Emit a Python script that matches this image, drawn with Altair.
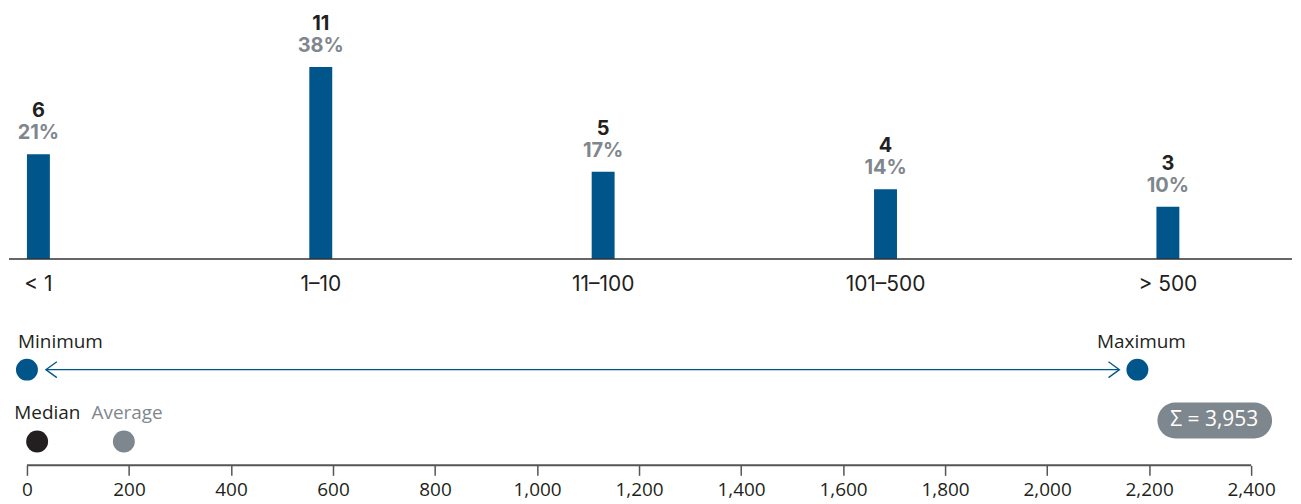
import altair as alt
import pandas as pd

# ---- data ----
categories = ["< 1", "1–10", "11–100", "101–500", "> 500"]
counts = [6, 11, 5, 4, 3]
shares = [21, 38, 17, 14, 10]

range_names = ["Minimum", "Maximum"]
range_values = [0, 2177]
center_names = ["Median", "Average"]
center_values = [20, 190]
total = 3953
axis_ticks = [0, 200, 400, 600, 800, 1000, 1200, 1400, 1600, 1800, 2000, 2200, 2400]

# ---- style ----
BLUE = "#00558b"
GRAY = "#7f878e"
INK = "#231f20"
FONT = "Inter"
FONT2 = "Open Sans"
W, H = 1287, 458

top_df = pd.DataFrame({"cat": categories, "count": counts,
                       "pct": [f"{s}%" for s in shares]})
one = pd.DataFrame({"k": [0]})

xt = alt.X("cat:N", sort=categories,
           scale=alt.Scale(type="point", range=[29.5, 1162.5], padding=0), axis=None)
yscale_t = alt.Scale(domain=[0, 14.34], range=[251, 0], nice=False, zero=True)
yt = alt.Y("count:Q", scale=yscale_t, axis=None, stack=None)

bars = alt.Chart(top_df).mark_bar(width=23, color=BLUE).encode(x=xt, y=yt)
baseline = alt.Chart(one).mark_rule(color="#333333", strokeWidth=1.5).encode(
    y=alt.YDatum(0, scale=yscale_t, axis=None))
count_text = alt.Chart(top_df).mark_text(
    dy=-43, font=FONT, fontSize=20, fontWeight="bold", color=INK, baseline="middle"
).encode(x=xt, y=yt, text="count:Q")
pct_text = alt.Chart(top_df).mark_text(
    dy=-21, font=FONT, fontSize=20, fontWeight="bold", color=GRAY, baseline="middle"
).encode(x=xt, y=yt, text="pct:N")
cat_text = alt.Chart(top_df).mark_text(
    dy=26, font=FONT, fontSize=21, color=INK, baseline="middle"
).encode(x=xt, y=alt.YDatum(0, scale=yscale_t, axis=None), text="cat:N")

top = alt.layer(bars, baseline, count_text, pct_text, cat_text)

# ---- bottom strip ----
xscale_b = alt.Scale(domain=[-35.18, 2480.1], nice=False, zero=False)
AXIS = alt.Axis(values=axis_ticks, labelExpr="format(datum.value, ',')", domain=False,
                grid=False, tickSize=10, tickColor="#555555", tickWidth=1.5,
                labelFontSize=19, labelColor=INK, labelFont=FONT2, labelPadding=5,
                title=None, labelFlush=False)
yscale_b = alt.Scale(domain=[0, 458 / 24], nice=False, zero=False)


def xb(field):
    return alt.X(field, scale=xscale_b, axis=AXIS)


def yb(r):
    return alt.YDatum(r, scale=yscale_b, axis=None)


range_df = pd.DataFrame({"name": range_names, "value": range_values})
span_df = pd.DataFrame({"lo": [range_values[0]], "hi": [range_values[1]]})
min_df = range_df.iloc[[0]]
max_df = range_df.iloc[[1]]
center_df = pd.DataFrame({"name": center_names, "value": center_values})
med_df = center_df.iloc[[0]]
avg_df = center_df.iloc[[1]]
badge_df = pd.DataFrame({"label": [f"Σ = {total:,}"]})

arrow_line = alt.Chart(span_df).mark_rule(color=BLUE, strokeWidth=1.3).encode(
    x=xb("lo:Q"), x2="hi:Q", y=yb(4))
halo = alt.Chart(range_df).mark_point(shape="circle", filled=True, color="white",
                                      opacity=1, size=1444).encode(x=xb("value:Q"), y=yb(4))
left_head = alt.Chart(min_df).mark_point(
    shape="M3,-0.8L1.9,0L3,0.8", filled=False, stroke=BLUE, strokeWidth=1.3, size=400,
    opacity=1).encode(x=xb("value:Q"), y=yb(4))
right_head = alt.Chart(max_df).mark_point(
    shape="M-2.9,-0.8L-1.8,0L-2.9,0.8", filled=False, stroke=BLUE, strokeWidth=1.3,
    size=400, opacity=1).encode(x=xb("value:Q"), y=yb(4))
range_dots = alt.Chart(range_df).mark_circle(size=484, color=BLUE, opacity=1).encode(
    x=xb("value:Q"), y=yb(4))
min_label = alt.Chart(min_df).mark_text(
    align="left", dx=-9, dy=-28, font=FONT2, fontSize=19, color=INK, baseline="middle"
).encode(x=xb("value:Q"), y=yb(4), text="name:N")
max_label = alt.Chart(max_df).mark_text(
    align="center", dx=4, dy=-28, font=FONT2, fontSize=19, color=INK, baseline="middle"
).encode(x=xb("value:Q"), y=yb(4), text="name:N")

cscale = alt.Scale(domain=center_names, range=[INK, GRAY])
center_dots = alt.Chart(center_df).mark_circle(size=484, opacity=1).encode(
    x=xb("value:Q"), y=yb(1), color=alt.Color("name:N", scale=cscale, legend=None))
med_label = alt.Chart(med_df).mark_text(
    align="left", dx=-23, dy=-28, font=FONT2, fontSize=19, baseline="middle"
).encode(x=xb("value:Q"), y=yb(1), text="name:N",
         color=alt.Color("name:N", scale=cscale, legend=None))
avg_label = alt.Chart(avg_df).mark_text(
    align="left", dx=-32.5, dy=-28, font=FONT2, fontSize=19, baseline="middle"
).encode(x=xb("value:Q"), y=yb(1), text="name:N",
         color=alt.Color("name:N", scale=cscale, legend=None))

axis_line = alt.Chart(one).mark_rule(color="#555555", strokeWidth=2).encode(
    x=alt.XDatum(axis_ticks[0], scale=xscale_b, axis=AXIS),
    x2=alt.X2Datum(axis_ticks[-1]), y=yb(0))

badge = alt.Chart(badge_df).mark_rect(color=GRAY, cornerRadius=18).encode(
    x=alt.value(1152), x2=alt.value(1267), y=alt.value(395), y2=alt.value(431))
badge_text = alt.Chart(badge_df).mark_text(
    font=FONT2, fontSize=21, color="white", baseline="middle", align="center"
).encode(x=alt.value(1209), y=alt.value(413), text="label:N")

bottom = alt.layer(arrow_line, halo, left_head, right_head, range_dots, min_label,
                   max_label, center_dots, med_label, avg_label, axis_line,
                   badge, badge_text)

chart = alt.layer(top, bottom).resolve_scale(
    x="independent", y="independent"
).properties(
    width=W, height=H, background="white",
    padding={"left": 0, "top": 0, "right": 0, "bottom": 4},
).configure_view(stroke=None)

chart.save("out.html", embed_options={"renderer": "svg", "actions": False})
